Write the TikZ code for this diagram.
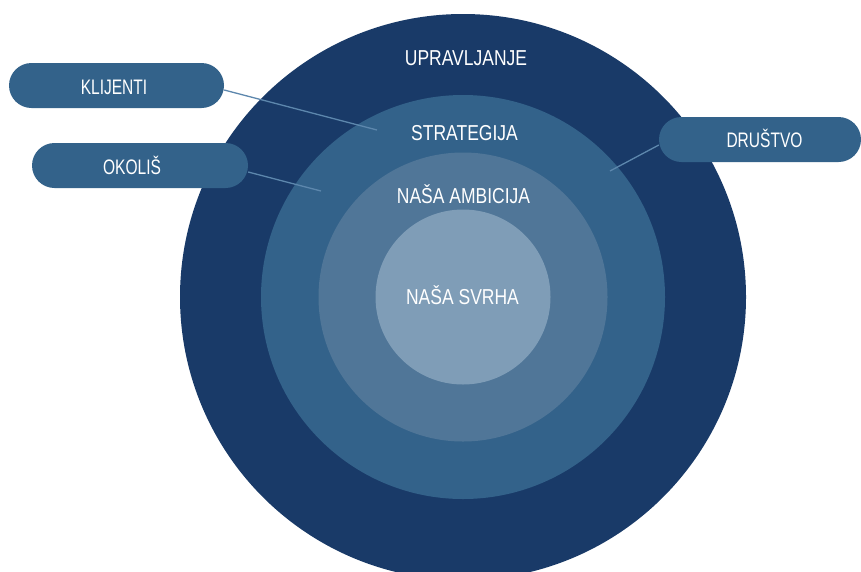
\documentclass[tikz,border=0pt]{standalone}
\usepackage{fontspec}
\setmainfont{Liberation Sans}
\newfontfamily\ringfont[FakeStretch=0.81]{Liberation Sans}
\newfontfamily\pillfont[FakeStretch=0.74]{Liberation Sans}
\usetikzlibrary{positioning, calc}
\definecolor{ringA}{HTML}{193A68}
\definecolor{ringB}{HTML}{33628A}
\definecolor{ringC}{HTML}{507698}
\definecolor{ringD}{HTML}{7F9DB7}
\definecolor{leadcol}{HTML}{5D87AD}

\begin{document}
\begin{tikzpicture}
    [
        x=1pt, y=-1pt,
        ring/.style={circle, draw=none, inner sep=0pt},
        pill/.style={rectangle, rounded corners=22.5pt, fill=ringB, draw=none, minimum height=45pt, inner sep=0pt},
        ring_text/.style={anchor=base, text=white, font=\ringfont\fontsize{21.6}{24}\selectfont},
        pill_text/.style={anchor=base, text=white, font=\pillfont\fontsize{21}{24}\selectfont},
        lead/.style={draw=leadcol, line width=1.3pt},
    ]
  \useasboundingbox (0,0) rectangle (861,571);

  % rings
  \node[ring, fill=ringA, minimum size=566pt] (upr) at (463,297) {};
  \node[ring, fill=ringB, minimum size=404pt] (str) at (463,297) {};
  \node[ring, fill=ringC, minimum size=289pt] (amb) at (463,297) {};
  \node[ring, fill=ringD, minimum size=175pt] (svr) at (463,297) {};

  \node[ring_text] (tUpr) at (466,65) {UPRAVLJANJE};
  \node[ring_text] (tStr) at (464.5,140) {STRATEGIJA};
  \node[ring_text] (tAmb) at (463.5,203) {NAŠA AMBICIJA};
  \node[ring_text] (tSvr) at (462.5,304) {NAŠA SVRHA};

  % pills
  \node[pill, minimum width=215pt] (kli) at (116.5,85.5) {};
  \node[pill, minimum width=216pt] (oko) at (140,165.5) {};
  \node[pill, minimum width=202pt] (dru) at (760,139.5) {};

  \coordinate (kEnd) at (377,130);
  \coordinate (oEnd) at (321,191);
  \coordinate (dEnd) at (610,171);

  \draw[lead] ($(kli.east)+(0,4.5)$) -- (kEnd);
  \draw[lead] ($(oko.east)+(0,6.5)$) -- (oEnd);
  \draw[lead] ($(dru.west)+(0,5.5)$) -- (dEnd);

  \node[pill_text] (tKli) at (114,94) {KLIJENTI};
  \node[pill_text] (tOko) at (132,174) {OKOLIŠ};
  \node[pill_text] (tDru) at (764.5,147) {DRUŠTVO};
\end{tikzpicture}
\end{document}
